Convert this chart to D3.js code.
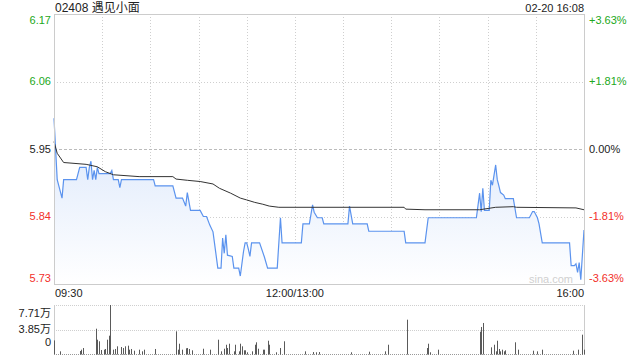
<!DOCTYPE html>
<html>
<head>
<meta charset="utf-8">
<script src="https://cdn.jsdelivr.net/npm/d3@7"></script>
<style>
  body { margin: 0; background: #fff; }
  svg { display: block; font-family: "Liberation Sans", Arial, "Noto Sans CJK SC", sans-serif; }
</style>
</head>
<body>
<svg id="chart" width="640" height="360"></svg>
<script>
const title = '02408 遇见小面';
const stamp = '02-20 16:08';
const prevClose = 5.95;

const priceTicks = [6.17, 6.06, 5.95, 5.84, 5.73];
const pctTicks = ['+3.63%', '+1.81%', '0.00%', '-1.81%', '-3.63%'];
const volTicks = [77100, 38500, 0];
const volTickLabels = ['7.71万', '3.85万', '0'];

const priceTimes = ['09:30','09:32','09:35','09:36','09:44','09:46','09:50','09:51','09:52','09:53',
  '09:54','09:55','09:56','09:57','09:58','10:05','10:06','10:07','10:10','10:11','10:12','10:32',
  '10:33','10:44','10:46','10:50','10:52','10:53','10:55','11:01','11:03','11:05','11:07','11:09',
  '11:12','11:14','11:15','11:16','11:17','11:18','11:21','11:22','11:25','11:26','11:28','11:29',
  '11:30','11:31','11:32','11:33','11:38','11:41','11:43','11:49','11:51','11:52','13:04','13:05',
  '13:09','13:11','13:12','13:14','13:17','13:18','13:33','13:34','13:36','13:45','13:46','14:08',
  '14:09','14:21','14:23','14:53','14:55','14:56','14:57','14:58','15:01','15:02','15:03','15:05',
  '15:06','15:07','15:08','15:10','15:11','15:16','15:18','15:26','15:28','15:29','15:31','15:32',
  '15:34','15:51','15:52','15:54','15:55','15:56','15:57','15:58','16:00'];
const priceValues = [6.00,5.90,5.87,5.90,5.90,5.92,5.92,5.90,5.92,5.93,
  5.90,5.915,5.90,5.92,5.91,5.91,5.915,5.90,5.90,5.887,5.90,5.90,
  5.89,5.89,5.87,5.87,5.857,5.879,5.85,5.85,5.84,5.84,5.826,5.815,
  5.756,5.756,5.805,5.78,5.81,5.777,5.775,5.756,5.756,5.743,5.783,5.797,
  5.797,5.787,5.775,5.797,5.797,5.774,5.756,5.756,5.838,5.797,5.797,5.828,
  5.828,5.859,5.847,5.838,5.838,5.828,5.828,5.857,5.828,5.828,5.816,5.816,
  5.797,5.797,5.838,5.838,5.878,5.848,5.886,5.85,5.85,5.899,5.891,5.924,
  5.90,5.89,5.879,5.875,5.869,5.869,5.838,5.838,5.848,5.848,5.838,5.828,
  5.797,5.797,5.760,5.760,5.763,5.749,5.765,5.737,5.818];

const avgTimes = ['09:30','09:32','09:36','09:50','09:57','10:02','10:07','10:23','10:44','10:46',
  '10:53','11:01','11:09','11:13','11:20','11:26','11:30','11:35','11:40','11:44','11:50','14:08',
  '14:09','14:21','14:55','15:05','15:16','15:18','15:55','16:00'];
const avgValues = [5.962,5.943,5.928,5.925,5.921,5.913,5.908,5.905,5.905,5.901,
  5.899,5.897,5.893,5.886,5.878,5.870,5.867,5.863,5.860,5.857,5.855,5.855,
  5.852,5.851,5.851,5.855,5.856,5.855,5.854,5.851];

const volTimes = ['09:30','09:34','09:46','09:47','09:48','09:56','09:57','09:58','09:59','10:01',
  '10:02','10:03','10:04','10:05','10:07','10:08','10:09','10:12','10:13','10:14','10:16','10:17',
  '10:18','10:20','10:23','10:25','10:26','10:33','10:46','10:47','10:48','10:50','10:52','10:53',
  '10:54','10:56','11:03','11:07','11:12','11:14','11:16','11:17','11:18','11:19','11:22','11:23',
  '11:25','11:26','11:27','11:28','11:29','11:30','11:33','11:35','11:36','11:37','11:40','11:41',
  '11:43','11:44','11:48','11:51','11:53','13:06','13:11','13:13','13:15','13:35','13:46','13:56',
  '13:58','14:10','14:22','14:23','14:24','14:29','14:55','14:56','14:57','15:02','15:04','15:05',
  '15:06','15:07','15:08','15:09','15:10','15:11','15:17','15:19','15:28','15:31','15:34','15:53',
  '15:56','15:59','16:00'];
const volValues = [21400,4200,4700,6800,9400,39800,22500,20000,6300,6800,
  7900,22500,28800,77100,6800,7900,12100,11000,9400,12100,13100,6800,
  7900,5200,6800,4200,6800,7900,35700,6800,16200,6800,9000,9400,
  7900,5800,8300,6800,22500,4200,8300,14600,9400,16200,4200,14600,
  4200,16200,12100,5800,5800,2700,4200,14600,18400,8300,6800,6800,
  20900,14600,2700,9400,20000,4200,3100,2700,3100,2700,3600,4200,
  14600,54000,9400,16200,2700,6800,35100,42500,48800,10500,14600,4200,
  20900,7900,4200,6800,4200,5800,18400,6800,5200,4200,6800,5200,
  6800,30400,6800];

// minute index since 09:30, lunch break folded (12:00 == 13:00)
function toMin(t) {
  const [h, m] = t.split(':').map(Number);
  const v = h * 60 + m;
  return v <= 720 ? v - 570 : v - 780 + 150;
}

const svg = d3.select('#chart');

const pLeft = 54, pRight = 584;
const pTop = 14, pBottom = 284;
const vTop = 305, vBottom = 354;

const x = d3.scaleLinear().domain([0, 330]).range([pLeft, pRight]);
const y = d3.scaleLinear().domain([5.73, 6.17]).range([pBottom, pTop]);
const yv = d3.scaleLinear().domain([0, 77100]).range([vBottom, vTop]);

const green = '#21a821', red = '#f2302a', grid = '#cfcfcf', border = '#cccccc';

// gradient for area
const defs = svg.append('defs');
const grad = defs.append('linearGradient').attr('id', 'fillGrad')
  .attr('x1', 0).attr('y1', 0).attr('x2', 0).attr('y2', 1);
grad.append('stop').attr('offset', '0%').attr('stop-color', '#dbe7fb');
grad.append('stop').attr('offset', '100%').attr('stop-color', '#ffffff');

// vertical grid
const gridMins = d3.range(30, 330, 30);
svg.append('g').selectAll('line').data(gridMins).join('line')
  .attr('x1', d => Math.round(x(d)) + 0.5).attr('x2', d => Math.round(x(d)) + 0.5)
  .attr('y1', pTop).attr('y2', pBottom)
  .attr('stroke', grid).attr('stroke-dasharray', '1,2');

// horizontal grid
svg.append('g').selectAll('line').data(priceTicks.slice(1, 4)).join('line')
  .attr('x1', pLeft).attr('x2', pRight)
  .attr('y1', d => Math.round(y(d)) + 0.5).attr('y2', d => Math.round(y(d)) + 0.5)
  .attr('stroke', d => d === prevClose ? '#bbbbbb' : grid)
  .attr('stroke-dasharray', d => d === prevClose ? '3,2' : '1,2');

const pts = priceTimes.map((t, i) => [toMin(t), priceValues[i]]);

// area
svg.append('path').datum(pts)
  .attr('fill', 'url(#fillGrad)')
  .attr('d', d3.area().x(d => x(d[0])).y0(pBottom).y1(d => y(d[1])));

// price line
svg.append('path').datum(pts)
  .attr('fill', 'none').attr('stroke', '#5b93ee').attr('stroke-width', 1.2)
  .attr('d', d3.line().x(d => x(d[0])).y(d => y(d[1])));

// average line
const avgPts = avgTimes.map((t, i) => [toMin(t), avgValues[i]]);
svg.append('path').datum(avgPts)
  .attr('fill', 'none').attr('stroke', '#333').attr('stroke-width', 1)
  .attr('d', d3.line().x(d => x(d[0])).y(d => y(d[1])));

// border
svg.append('rect').attr('x', pLeft + 0.5).attr('y', pTop + 0.5)
  .attr('width', pRight - pLeft).attr('height', pBottom - pTop)
  .attr('fill', 'none').attr('stroke', border);

// watermark
svg.append('text').attr('x', 573).attr('y', 283).attr('text-anchor', 'end')
  .attr('font-size', 11).attr('fill', '#d0d0d0').text('sina.com');

// left labels
const tickColor = d => d > prevClose ? green : d < prevClose ? red : '#222';
const clampY = v => Math.max(pTop + 6, Math.min(pBottom - 6, y(v)));
svg.append('g').selectAll('text').data(priceTicks).join('text')
  .attr('x', 51).attr('y', d => clampY(d)).attr('dy', '0.35em')
  .attr('text-anchor', 'end').attr('font-size', 11)
  .attr('fill', tickColor).text(d => d.toFixed(2));

// right labels
svg.append('g').selectAll('text').data(priceTicks).join('text')
  .attr('x', 589).attr('y', d => clampY(d)).attr('dy', '0.35em')
  .attr('font-size', 11).attr('fill', tickColor)
  .text((d, i) => pctTicks[i]);

// title and stamp
svg.append('text').attr('x', 55).attr('y', 11.5).attr('font-size', 12).attr('fill', '#222').text(title);
svg.append('text').attr('x', 584).attr('y', 11.5).attr('text-anchor', 'end').attr('font-size', 11).attr('fill', '#222').text(stamp);

// x labels
const xLabels = [['09:30', 0, 'start'], ['12:00/13:00', 150, 'middle'], ['16:00', 330, 'end']];
svg.append('g').selectAll('text').data(xLabels).join('text')
  .attr('x', d => d[2] === 'start' ? x(d[1]) + 1 : x(d[1]))
  .attr('y', 297).attr('text-anchor', d => d[2])
  .attr('font-size', 11).attr('fill', '#222').text(d => d[0]);

// volume panel
svg.append('g').selectAll('line').data(volTicks).join('line')
  .attr('x1', pLeft).attr('x2', pRight)
  .attr('y1', d => Math.round(yv(d)) + 0.5).attr('y2', d => Math.round(yv(d)) + 0.5)
  .attr('stroke', d => d === 0 ? '#999' : grid).attr('stroke-dasharray', '1,1');
svg.append('line').attr('x1', pLeft + 0.5).attr('x2', pLeft + 0.5).attr('y1', vTop).attr('y2', vBottom + 1).attr('stroke', border);
svg.append('line').attr('x1', pRight + 0.5).attr('x2', pRight + 0.5).attr('y1', vTop).attr('y2', vBottom + 1).attr('stroke', border);

svg.append('g').selectAll('rect').data(volTimes.map((t, i) => [toMin(t), volValues[i]])).join('rect')
  .attr('x', d => Math.round(x(d[0])))
  .attr('y', d => yv(d[1]))
  .attr('width', 1)
  .attr('height', d => vBottom - yv(d[1]) + 0.5)
  .attr('fill', '#5a5a5a');

const volLabelY = [313, 329, 342];
svg.append('g').selectAll('text').data(volTickLabels).join('text')
  .attr('x', 51).attr('y', (d, i) => volLabelY[i]).attr('dy', '0.35em')
  .attr('text-anchor', 'end').attr('font-size', 11).attr('fill', '#222').text(d => d);
</script>
</body>
</html>
